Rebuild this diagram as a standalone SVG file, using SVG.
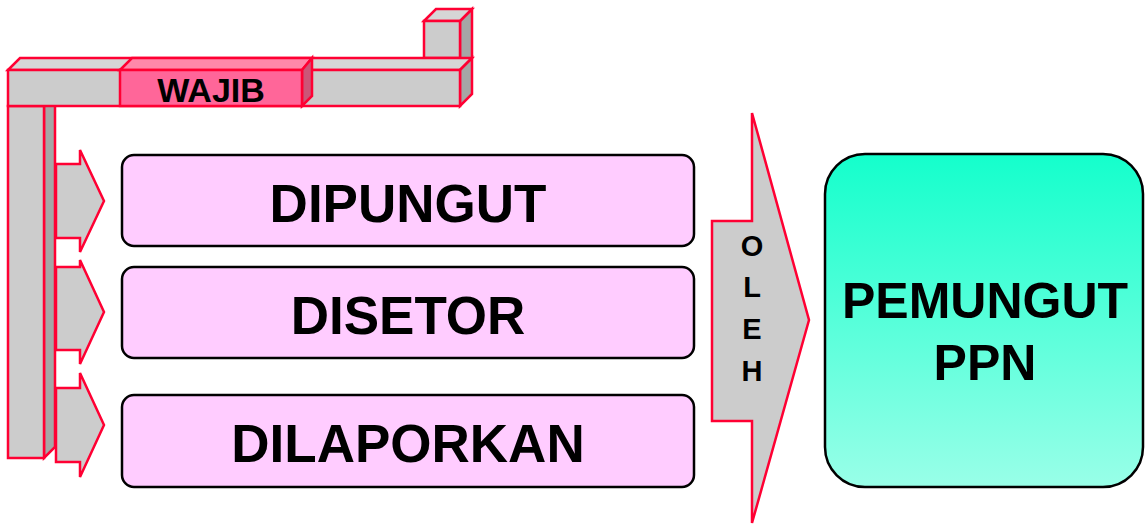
<svg xmlns="http://www.w3.org/2000/svg" width="1148" height="526" viewBox="0 0 1148 526">
<defs>
<linearGradient id="g" x1="0" y1="0" x2="0" y2="1">
<stop offset="0" stop-color="#14FFCC"/>
<stop offset="1" stop-color="#99FFE8"/>
</linearGradient>
<style>
.r{stroke:#FF0033;stroke-width:2.5;stroke-linejoin:miter}
.f{fill:#CCCCCC}.t{fill:#D6D6D6}.s{fill:#A6A6A6}
.box{fill:#FFCCFF;stroke:#000;stroke-width:2.5}
.tx{font-family:"Liberation Sans",Arial,sans-serif;font-weight:bold;fill:#000;text-anchor:middle}
</style>
</defs>
<rect width="1148" height="526" fill="#fff"/>
<g id="connectors">
<polygon class="r f" points="56,164 80,164 80,150 104,201 80,252 80,238 56,238"/>
<polygon class="r f" points="56,267 80,267 80,260 104,312 80,364 80,350 56,350"/>
<polygon class="r f" points="56,388 80,388 80,373 104,425 80,477 80,462 56,462"/>
</g>
<g id="frame">
<polygon class="r s" points="44,106 55,95 55,447 44,458"/>
<rect class="r f" x="8" y="106" width="36" height="352"/>
<polygon class="r s" points="460,21 472,9 472,58 460,70"/>
<polygon class="r t" points="424,21 436,9 472,9 460,21"/>
<rect class="r f" x="424" y="21" width="36" height="37"/>
<polygon class="r t" points="8,70 20,58 472,58 460,70"/>
<polygon class="r s" points="460,70 472,58 472,94 460,106"/>
<rect class="r f" x="8" y="70" width="452" height="36"/>
</g>
<g id="wajib">
<polygon class="r" fill="#FF88AA" points="120,70 132,58 312,58 302,70"/>
<polygon class="r" fill="#CC5577" points="302,70 312,58 312,96 302,106"/>
<rect class="r" fill="#FF6699" x="120" y="70" width="182" height="36"/>
<text class="tx" x="211" y="102" font-size="34">WAJIB</text>
</g>
<g id="dipungut">
<rect class="box" x="122" y="155" width="572" height="91" rx="12"/>
<text class="tx" x="408" y="222" font-size="53">DIPUNGUT</text>
</g>
<g id="disetor">
<rect class="box" x="122" y="267" width="572" height="91" rx="12"/>
<text class="tx" x="408" y="334" font-size="53">DISETOR</text>
</g>
<g id="dilaporkan">
<rect class="box" x="122" y="395" width="572" height="92" rx="12"/>
<text class="tx" x="408" y="462" font-size="53">DILAPORKAN</text>
</g>
<g id="oleh">
<polygon class="r f" points="712,221 752,221 752,113 809,320 752,523 752,421 712,421"/>
<text class="tx" font-size="29" x="752" y="256">O</text>
<text class="tx" font-size="29" x="752" y="297">L</text>
<text class="tx" font-size="29" x="752" y="339">E</text>
<text class="tx" font-size="29" x="752" y="381">H</text>
</g>
<g id="pemungut">
<rect x="825" y="154" width="318" height="333" rx="40" fill="url(#g)" stroke="#000" stroke-width="2.5"/>
<text class="tx" x="985" y="318" font-size="50">PEMUNGUT</text>
<text class="tx" x="985" y="380" font-size="50">PPN</text>
</g>
</svg>
